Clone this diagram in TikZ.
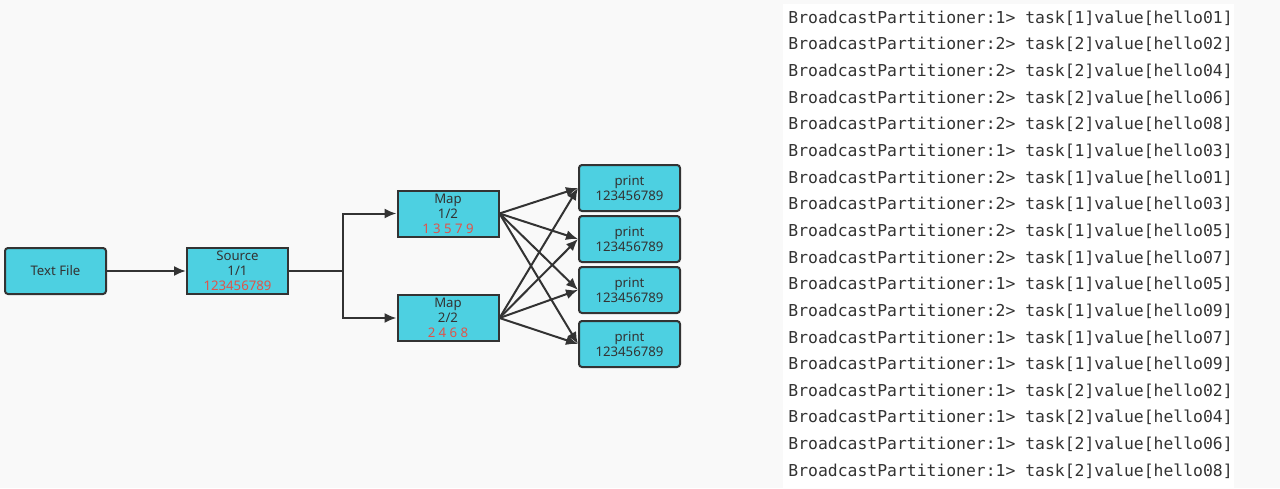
\documentclass[tikz,border=0pt]{standalone}
\usepackage{fontspec}
\setmainfont{Noto Sans}
\setmonofont{DejaVu Sans Mono}
\usetikzlibrary{arrows.meta,positioning}
\definecolor{boxcyan}{HTML}{4DD0E1}
\definecolor{edgegray}{HTML}{333333}
\definecolor{numred}{HTML}{E0534A}
\definecolor{paper}{HTML}{F9F9F9}

\begin{document}
\begin{tikzpicture}[x=0.5pt,y=-0.5pt]
\tikzstyle{task}=[draw=edgegray,fill=boxcyan,line width=1pt,minimum width=50.5pt,minimum height=23pt,inner sep=0pt,align=center,text=edgegray,font=\fontsize{6.6}{7.5}\selectfont]
\tikzstyle{flow}=[draw=edgegray,line width=1pt,-{Latex[length=6pt,width=5pt]}]
\tikzstyle{logline}=[anchor=west,inner sep=0pt,text=edgegray,font=\ttfamily\fontsize{8.2}{10}\selectfont]

% background and log panel
\fill[paper] (0,0) rectangle (1280,488);
\fill[white] (783,4) rectangle (1234,488);

% Nodes of the job graph
\node (file) [task,rounded corners=1.5pt] at (55.5,271) {Text File};
\node (src) [task] at (237.5,271) {Source\\1/1\\\textcolor{numred}{123456789}};
\node (map1) [task] at (448,213.5) {Map\\1/2\\\textcolor{numred}{1 3 5 7 9}};
\node (map2) [task] at (448,318) {Map\\2/2\\\textcolor{numred}{2 4 6 8}};

% print sinks
\node (prt1) [task,rounded corners=1.5pt] at (629.5,188) {print\\123456789};
\node (prt2) [task,rounded corners=1.5pt] at (629.5,239) {print\\123456789};
\node (prt3) [task,rounded corners=1.5pt] at (629.5,290) {print\\123456789};
\node (prt4) [task,rounded corners=1.5pt] at (629.5,344) {print\\123456789};

\coordinate (fork) at (343,271);

\draw[flow] (file) -- (src);
\draw[draw=edgegray,line width=1pt] (src) -- (fork);
\draw[flow] (fork) |- (map1);
\draw[flow] (fork) |- (map2);

% broadcast: every map feeds every print
\foreach \m in {map1,map2}
  \foreach \p in {prt1,prt2,prt3,prt4}
    \draw[flow] (\m.east) -- (\p.west);

% log output
\foreach \a/\b/\c [count=\i] in {1/1/01,2/2/02,2/2/04,2/2/06,2/2/08,1/1/03,2/1/01,2/1/03,2/1/05,2/1/07,1/1/05,2/1/09,1/1/07,1/1/09,1/2/02,1/2/04,1/2/06,1/2/08}
  \node (log\i) [logline] at (788,{18+(\i-1)*26.65}) {BroadcastPartitioner:\a> task[\b]value[hello\c]};

\end{tikzpicture}
\end{document}
